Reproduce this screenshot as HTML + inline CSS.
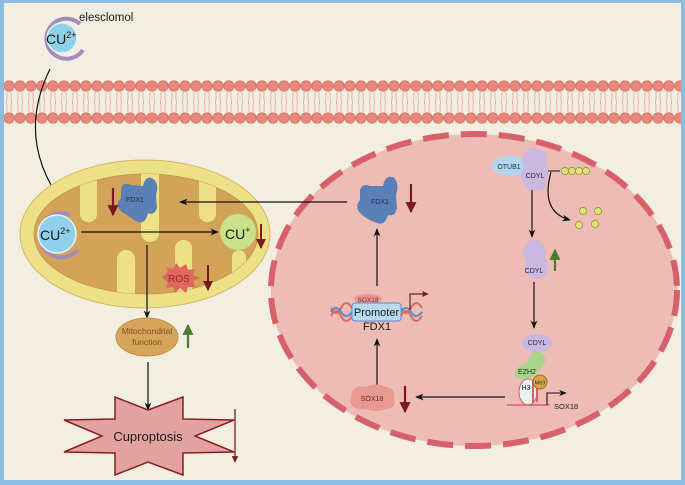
<!DOCTYPE html>
<html><head><meta charset="utf-8"><style>
html,body{margin:0;padding:0;background:#f2eee2}
svg{display:block;font-family:"Liberation Sans",sans-serif}
</style></head><body>
<svg width="685" height="485" viewBox="0 0 685 485" xmlns="http://www.w3.org/2000/svg">
<defs>
<marker id="a" viewBox="0 0 10 10" refX="9" refY="5" markerWidth="7" markerHeight="7" orient="auto"><path d="M0,1 L10,5 L0,9 L3,5 z" fill="#111"/></marker>
<marker id="r" viewBox="0 0 10 10" refX="9" refY="5" markerWidth="5" markerHeight="5" orient="auto"><path d="M0,0 L10,5 L0,10 z" fill="#7a1a1e"/></marker>
<marker id="g" viewBox="0 0 10 10" refX="9" refY="5" markerWidth="5" markerHeight="5" orient="auto"><path d="M0,0 L10,5 L0,10 z" fill="#4a7a2a"/></marker>
<pattern id="tails" x="6" y="92" width="11" height="20" patternUnits="userSpaceOnUse">
<path d="M1,0 V7 Q0,10 1,13 V20 M5,0 V7 Q6,10 5,13 V20" stroke="#e8a39a" stroke-width="0.8" fill="none"/>
</pattern>
<clipPath id="inner"><ellipse cx="146" cy="234" rx="112" ry="60"/></clipPath>
</defs>
<rect x="0" y="0" width="685" height="485" fill="#8bbde3"/>
<rect x="4" y="3" width="677" height="477" fill="#f2eee2"/>

<!-- membrane -->
<rect x="4" y="92" width="677" height="20" fill="url(#tails)"/>
<g fill="#e8877b" stroke="#d46b60" stroke-width="0.6">
<circle cx="9" cy="86" r="5.3"/><circle cx="20" cy="86" r="5.3"/><circle cx="31" cy="86" r="5.3"/><circle cx="42" cy="86" r="5.3"/><circle cx="53" cy="86" r="5.3"/><circle cx="64" cy="86" r="5.3"/><circle cx="75" cy="86" r="5.3"/><circle cx="86" cy="86" r="5.3"/><circle cx="97" cy="86" r="5.3"/><circle cx="108" cy="86" r="5.3"/><circle cx="119" cy="86" r="5.3"/><circle cx="130" cy="86" r="5.3"/><circle cx="141" cy="86" r="5.3"/><circle cx="152" cy="86" r="5.3"/><circle cx="163" cy="86" r="5.3"/><circle cx="174" cy="86" r="5.3"/><circle cx="185" cy="86" r="5.3"/><circle cx="196" cy="86" r="5.3"/><circle cx="207" cy="86" r="5.3"/><circle cx="218" cy="86" r="5.3"/><circle cx="229" cy="86" r="5.3"/><circle cx="240" cy="86" r="5.3"/><circle cx="251" cy="86" r="5.3"/><circle cx="262" cy="86" r="5.3"/><circle cx="273" cy="86" r="5.3"/><circle cx="284" cy="86" r="5.3"/><circle cx="295" cy="86" r="5.3"/><circle cx="306" cy="86" r="5.3"/><circle cx="317" cy="86" r="5.3"/><circle cx="328" cy="86" r="5.3"/><circle cx="339" cy="86" r="5.3"/><circle cx="350" cy="86" r="5.3"/><circle cx="361" cy="86" r="5.3"/><circle cx="372" cy="86" r="5.3"/><circle cx="383" cy="86" r="5.3"/><circle cx="394" cy="86" r="5.3"/><circle cx="405" cy="86" r="5.3"/><circle cx="416" cy="86" r="5.3"/><circle cx="427" cy="86" r="5.3"/><circle cx="438" cy="86" r="5.3"/><circle cx="449" cy="86" r="5.3"/><circle cx="460" cy="86" r="5.3"/><circle cx="471" cy="86" r="5.3"/><circle cx="482" cy="86" r="5.3"/><circle cx="493" cy="86" r="5.3"/><circle cx="504" cy="86" r="5.3"/><circle cx="515" cy="86" r="5.3"/><circle cx="526" cy="86" r="5.3"/><circle cx="537" cy="86" r="5.3"/><circle cx="548" cy="86" r="5.3"/><circle cx="559" cy="86" r="5.3"/><circle cx="570" cy="86" r="5.3"/><circle cx="581" cy="86" r="5.3"/><circle cx="592" cy="86" r="5.3"/><circle cx="603" cy="86" r="5.3"/><circle cx="614" cy="86" r="5.3"/><circle cx="625" cy="86" r="5.3"/><circle cx="636" cy="86" r="5.3"/><circle cx="647" cy="86" r="5.3"/><circle cx="658" cy="86" r="5.3"/><circle cx="669" cy="86" r="5.3"/><circle cx="680" cy="86" r="5.3"/>
<circle cx="9" cy="118" r="5.3"/><circle cx="20" cy="118" r="5.3"/><circle cx="31" cy="118" r="5.3"/><circle cx="42" cy="118" r="5.3"/><circle cx="53" cy="118" r="5.3"/><circle cx="64" cy="118" r="5.3"/><circle cx="75" cy="118" r="5.3"/><circle cx="86" cy="118" r="5.3"/><circle cx="97" cy="118" r="5.3"/><circle cx="108" cy="118" r="5.3"/><circle cx="119" cy="118" r="5.3"/><circle cx="130" cy="118" r="5.3"/><circle cx="141" cy="118" r="5.3"/><circle cx="152" cy="118" r="5.3"/><circle cx="163" cy="118" r="5.3"/><circle cx="174" cy="118" r="5.3"/><circle cx="185" cy="118" r="5.3"/><circle cx="196" cy="118" r="5.3"/><circle cx="207" cy="118" r="5.3"/><circle cx="218" cy="118" r="5.3"/><circle cx="229" cy="118" r="5.3"/><circle cx="240" cy="118" r="5.3"/><circle cx="251" cy="118" r="5.3"/><circle cx="262" cy="118" r="5.3"/><circle cx="273" cy="118" r="5.3"/><circle cx="284" cy="118" r="5.3"/><circle cx="295" cy="118" r="5.3"/><circle cx="306" cy="118" r="5.3"/><circle cx="317" cy="118" r="5.3"/><circle cx="328" cy="118" r="5.3"/><circle cx="339" cy="118" r="5.3"/><circle cx="350" cy="118" r="5.3"/><circle cx="361" cy="118" r="5.3"/><circle cx="372" cy="118" r="5.3"/><circle cx="383" cy="118" r="5.3"/><circle cx="394" cy="118" r="5.3"/><circle cx="405" cy="118" r="5.3"/><circle cx="416" cy="118" r="5.3"/><circle cx="427" cy="118" r="5.3"/><circle cx="438" cy="118" r="5.3"/><circle cx="449" cy="118" r="5.3"/><circle cx="460" cy="118" r="5.3"/><circle cx="471" cy="118" r="5.3"/><circle cx="482" cy="118" r="5.3"/><circle cx="493" cy="118" r="5.3"/><circle cx="504" cy="118" r="5.3"/><circle cx="515" cy="118" r="5.3"/><circle cx="526" cy="118" r="5.3"/><circle cx="537" cy="118" r="5.3"/><circle cx="548" cy="118" r="5.3"/><circle cx="559" cy="118" r="5.3"/><circle cx="570" cy="118" r="5.3"/><circle cx="581" cy="118" r="5.3"/><circle cx="592" cy="118" r="5.3"/><circle cx="603" cy="118" r="5.3"/><circle cx="614" cy="118" r="5.3"/><circle cx="625" cy="118" r="5.3"/><circle cx="636" cy="118" r="5.3"/><circle cx="647" cy="118" r="5.3"/><circle cx="658" cy="118" r="5.3"/><circle cx="669" cy="118" r="5.3"/><circle cx="680" cy="118" r="5.3"/>
</g>
<rect x="681" y="0" width="4" height="485" fill="#8bbde3"/>

<!-- elesclomol Cu -->
<path d="M80,24 A20,20 0 1 0 83,50" stroke="#a58bbd" stroke-width="4" fill="none"/>
<circle cx="62" cy="38" r="15" fill="#8fd1ec" stroke="#e8f3f8" stroke-width="1.5"/>
<text x="46" y="44" font-size="14" fill="#1a1a1a">CU<tspan font-size="9" dy="-6">2+</tspan></text>
<text x="79" y="21" font-size="11.5" fill="#1a1a1a">elesclomol</text>
<path d="M50,69 Q15,140 64,205" stroke="#111" stroke-width="1.2" fill="none" marker-end="url(#a)"/>

<!-- mitochondrion -->
<ellipse cx="145" cy="234" rx="125" ry="74" fill="#ede187" stroke="#d6b45c" stroke-width="1"/>
<ellipse cx="146" cy="234" rx="112" ry="60" fill="#d3a35a" stroke="#c48f45" stroke-width="0.8"/>
<g fill="#ede187" clip-path="url(#inner)">
<rect x="80" y="150" width="17" height="72" rx="8"/>
<rect x="141" y="150" width="18" height="92" rx="9"/>
<rect x="199" y="150" width="17" height="72" rx="8"/>
<rect x="117" y="250" width="18" height="70" rx="9"/>
<rect x="175" y="240" width="17" height="80" rx="8"/>
<rect x="232" y="250" width="14" height="70" rx="7"/>
</g>
<!-- FDX1 mito blob -->
<path d="M121,190 Q122,181 131,185 L143,186 Q145,176 152,178 Q160,183 156,195 L157,208 Q154,216 148,213 Q145,226 136,221 Q128,216 122,212 Q114,205 121,198 z" fill="#5b7fb7"/>
<text x="126" y="202" font-size="7" fill="#1d2d50">FDX1</text>
<line x1="113" y1="188" x2="113" y2="215" stroke="#7a1a1e" stroke-width="2.2" marker-end="url(#r)"/>
<!-- CU2+ in mito -->
<path d="M70,215 A22,22 0 1 0 78,250" stroke="#a58bbd" stroke-width="4" fill="none"/>
<circle cx="57" cy="234" r="19" fill="#8fd1ec" stroke="#e8f3f8" stroke-width="1.5"/>
<text x="40" y="240" font-size="14" fill="#1a1a1a">CU<tspan font-size="9" dy="-6">2+</tspan></text>
<line x1="81" y1="232" x2="218" y2="232" stroke="#111" stroke-width="1.2" marker-end="url(#a)"/>
<circle cx="238" cy="232" r="18" fill="#c7e28a"/>
<text x="225" y="239" font-size="14" fill="#1a1a1a">CU<tspan font-size="9" dy="-6">+</tspan></text>
<line x1="261" y1="224" x2="261" y2="248" stroke="#7a1a1e" stroke-width="2" marker-end="url(#r)"/>
<!-- ROS -->
<polygon points="162,277 168,272 166,267 173,269 176,263 180,268 186,264 188,270 195,269 193,275 200,278 193,281 195,287 188,287 186,293 180,288 175,293 173,287 166,288 168,283" fill="#e2665c"/>
<text x="168" y="282" font-size="10" fill="#8a2a25">ROS</text>
<line x1="208" y1="265" x2="208" y2="290" stroke="#7a1a1e" stroke-width="2" marker-end="url(#r)"/>
<line x1="147" y1="245" x2="147" y2="318" stroke="#111" stroke-width="1.2" marker-end="url(#a)"/>

<!-- mito function -->
<ellipse cx="147" cy="337" rx="31" ry="19" fill="#d6a45a" stroke="#c48f45" stroke-width="1"/>
<text x="147" y="334" font-size="8.5" fill="#7a5020" text-anchor="middle">Mitochondrial</text>
<text x="147" y="345" font-size="8.5" fill="#7a5020" text-anchor="middle">function</text>
<line x1="188" y1="348" x2="188" y2="325" stroke="#4a7a2a" stroke-width="2.2" marker-end="url(#g)"/>
<line x1="148" y1="362" x2="148" y2="410" stroke="#111" stroke-width="1.2" marker-end="url(#a)"/>
<!-- Cuproptosis star -->
<polygon points="148,410 183,397 183,419 234,420 195,436 234,452 183,453 183,475 148,462 115,475 115,453 64,452 102,436 64,420 115,419 115,397" fill="#e2a3a0" stroke="#8b1e22" stroke-width="1.5"/>
<text x="148" y="441" font-size="13" fill="#1a1a1a" text-anchor="middle">Cuproptosis</text>
<line x1="235" y1="409" x2="235" y2="462" stroke="#7a1a1e" stroke-width="1.3" marker-end="url(#r)"/>
<rect x="0" y="480" width="685" height="5" fill="#8bbde3"/>
<rect x="0" y="0" width="4" height="485" fill="#8bbde3"/>

<!-- nucleus -->
<ellipse cx="474" cy="290" rx="203" ry="156" fill="#edbcb4" stroke="#d8606a" stroke-width="6" stroke-dasharray="26,12"/>

<!-- FDX1 nucleus -->
<path d="M360,190 Q362,183 370,186 L383,186 Q385,175 393,177 Q400,183 396,195 L397,208 Q395,217 388,215 Q385,226 377,223 Q368,220 361,214 Q354,207 360,200 z" fill="#5b7fb7"/>
<text x="371" y="204" font-size="7" fill="#1d2d50">FDX1</text>
<line x1="411" y1="184" x2="411" y2="212" stroke="#7a1a1e" stroke-width="2.2" marker-end="url(#r)"/>
<line x1="347" y1="202" x2="180" y2="202" stroke="#111" stroke-width="1.2" marker-end="url(#a)"/>
<line x1="377" y1="286" x2="377" y2="229" stroke="#111" stroke-width="1.2" marker-end="url(#a)"/>

<!-- promoter -->
<path d="M331,308 Q336,318 341,308 Q346,298 352,308 M331,316 Q336,306 341,316 Q346,326 352,316" stroke="#e06a5a" stroke-width="2" fill="none"/>
<path d="M331,312 Q336,304 341,312 Q346,320 352,312" stroke="#5a8ad0" stroke-width="2" fill="none"/>
<path d="M401,308 Q406,318 411,308 Q416,298 422,308 M401,316 Q406,306 411,316 Q416,326 422,316" stroke="#e06a5a" stroke-width="2" fill="none"/>
<path d="M401,312 Q406,304 411,312 Q416,320 422,312" stroke="#5a8ad0" stroke-width="2" fill="none"/>
<ellipse cx="368" cy="299" rx="14" ry="5" fill="#e89a92"/>
<text x="368" y="302" font-size="6.5" fill="#7a2a25" text-anchor="middle">SOX18</text>
<rect x="352" y="303" width="49" height="18" rx="3" fill="#b7daf0" stroke="#5a8ad0" stroke-width="1"/>
<text x="376.5" y="316" font-size="11" fill="#1a1a1a" text-anchor="middle">Promoter</text>
<text x="377" y="330" font-size="11" fill="#1a1a1a" text-anchor="middle">FDX1</text>
<path d="M410,310 V294 H428" stroke="#7a1a1e" stroke-width="1.2" fill="none" marker-end="url(#r)"/>
<line x1="377" y1="387" x2="377" y2="339" stroke="#111" stroke-width="1.2" marker-end="url(#a)"/>

<!-- SOX18 blob -->
<path d="M352,392 Q356,384 366,387 Q376,382 386,387 Q396,388 394,398 Q397,408 386,409 Q376,413 366,409 Q352,411 350,401 z" fill="#e89a92"/>
<text x="372" y="401" font-size="7" fill="#6a2a25" text-anchor="middle">SOX18</text>
<line x1="405" y1="386" x2="405" y2="412" stroke="#7a1a1e" stroke-width="2.2" marker-end="url(#r)"/>
<line x1="505" y1="397" x2="416" y2="397" stroke="#111" stroke-width="1.2" marker-end="url(#a)"/>

<!-- OTUB1 / CDYL -->
<ellipse cx="510" cy="166" rx="18" ry="10" fill="#b3d6ee"/>
<text x="509" y="169" font-size="7" fill="#1d2d50" text-anchor="middle">OTUB1</text>
<path d="M526,152 Q532,145 540,150 Q548,152 546,162 Q550,172 546,180 Q548,190 538,190 Q528,192 524,184 Q518,176 524,168 Q520,158 526,152 z" fill="#cbb8e0"/>
<text x="535" y="178" font-size="7" fill="#2a2240" text-anchor="middle">CDYL</text>
<line x1="548" y1="171" x2="560" y2="171" stroke="#111" stroke-width="1"/>
<g fill="#e4e07a" stroke="#8a8a30" stroke-width="0.7">
<circle cx="565" cy="171" r="3.6"/><circle cx="572" cy="171" r="3.6"/><circle cx="579" cy="171" r="3.6"/><circle cx="586" cy="171" r="3.6"/>
<circle cx="583" cy="211" r="3.6"/><circle cx="598" cy="211" r="3.6"/><circle cx="579" cy="225" r="3.6"/><circle cx="595" cy="224" r="3.6"/>
</g>
<path d="M551,172 Q540,212 570,220" stroke="#111" stroke-width="1.2" fill="none" marker-end="url(#a)"/>
<line x1="532" y1="190" x2="532" y2="237" stroke="#111" stroke-width="1.2" marker-end="url(#a)"/>
<path d="M527,243 Q533,237 540,242 Q547,246 545,258 Q550,268 545,276 Q538,282 530,277 Q522,272 526,262 Q520,252 527,243 z" fill="#cbb8e0"/>
<text x="534" y="273" font-size="7" fill="#2a2240" text-anchor="middle">CDYL</text>
<line x1="555" y1="271" x2="555" y2="250" stroke="#4a7a2a" stroke-width="2.2" marker-end="url(#g)"/>
<line x1="534" y1="282" x2="534" y2="328" stroke="#111" stroke-width="1.2" marker-end="url(#a)"/>
<ellipse cx="537" cy="343" rx="15" ry="9" fill="#cbb8e0"/>
<text x="537" y="345" font-size="7" fill="#2a2240" text-anchor="middle">CDYL</text>
<path d="M534,350 Q546,352 545,362 Q540,372 530,378 Q518,382 514,374 Q516,366 526,364 Q530,356 534,350 z" fill="#a9d489"/>
<text x="527" y="374" font-size="7" fill="#1a3010" text-anchor="middle">EZH2</text>
<ellipse cx="528" cy="392" rx="9" ry="13" fill="#e8f3ef" stroke="#d8606a" stroke-width="1"/>
<path d="M533,381 V403 M537,382 V402" stroke="#d8606a" stroke-width="2"/>
<text x="526" y="390" font-size="7" fill="#222" text-anchor="middle">H3</text>
<circle cx="540" cy="382" r="7" fill="#d6a345" stroke="#8a6020" stroke-width="0.8"/>
<text x="540" y="384.5" font-size="5.5" fill="#333" text-anchor="middle">Me3</text>
<line x1="507" y1="405" x2="550" y2="405" stroke="#d8606a" stroke-width="1.5"/>
<path d="M547,405 V393 H566" stroke="#111" stroke-width="1.1" fill="none" marker-end="url(#a)"/>
<text x="554" y="409" font-size="7.5" fill="#222">SOX18</text>
</svg>
</body></html>
